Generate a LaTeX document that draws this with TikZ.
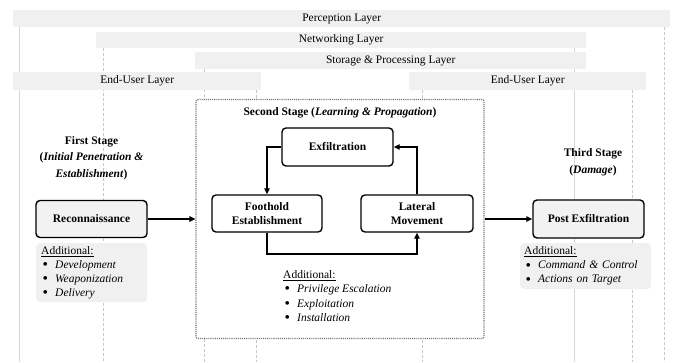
\documentclass[tikz,border=0pt]{standalone}
\usepackage{fontspec}
\setmainfont{Liberation Serif}
\usetikzlibrary{arrows.meta}
\newcommand\addItem[1]{\hspace*{1.5pt}\makebox[12.5pt][l]{\raisebox{-1.3pt}{\scalebox{1.35}{\textbullet}}}\textit{#1}}
\begin{document}
\begin{tikzpicture}[x=1pt,y=-1pt,
  every node/.style={font=\fontsize{11.5}{14}\selectfont},
  layer/.style={fill=black!6, inner sep=0pt, anchor=north west},
  vdash/.style={draw=black!22, line width=0.7pt, densely dashed},
  vsolid/.style={draw=black!16, line width=0.9pt},
  stagebox/.style={draw=black, line width=1.4pt, rounded corners=4pt, fill=black!5, font=\fontsize{11.5}{14}\selectfont\bfseries, align=center, inner sep=0pt},
  addbox/.style={fill=black!6, rounded corners=4pt, anchor=north west, align=left, inner ysep=0pt},
  conn/.style={line width=1.3pt, -{Triangle[length=6pt,width=5.5pt]}},
  title/.style={font=\fontsize{11.5}{16.5}\selectfont\bfseries, align=center}
]
\useasboundingbox (0,0) rectangle (673,362);

% vertical guide lines
\coordinate (v1) at (19,362);
\coordinate (v2) at (103,362);
\coordinate (v3) at (204,362);
\coordinate (v4) at (256,362);
\coordinate (v5) at (422,362);
\coordinate (v6) at (574,362);
\coordinate (v7) at (632,362);
\coordinate (v8) at (664,362);
\coordinate (top1) at (0,27);
\coordinate (top2) at (0,48);
\coordinate (top3) at (0,69);
\coordinate (top4) at (0,90);
\draw[vsolid] (v1 |- top1) -- (v1);
\draw[vdash] (v2 |- top2) -- (v2);
\draw[vdash] (v3 |- top3) -- (v3);
\draw[vdash] (v4 |- top4) -- (v4);
\draw[vdash] (v5 |- top4) -- (v5);
\draw[vsolid] (v6 |- top2) -- (v6);
\draw[vdash] (v7 |- top4) -- (v7);
\draw[vdash] (v8 |- top1) -- (v8);

% layers
\node[layer, minimum width=657pt, minimum height=17pt] (perc) at (13,10) {Perception Layer};
\node[layer, minimum width=490pt, minimum height=16pt] (net) at (96,32) {Networking Layer};
\node[layer, minimum width=391pt, minimum height=17pt] (stor) at (195,52) {Storage \& Processing Layer};
\node[layer, minimum width=248pt, minimum height=18pt] (eul) at (13,72) {End-User Layer};
\node[layer, minimum width=237pt, minimum height=18pt] (eur) at (409,72) {End-User Layer};

% second stage container
\node[draw=black!55, densely dotted, line width=1.1pt, fill=white, rounded corners=2pt,
      minimum width=288pt, minimum height=239pt, inner sep=0pt] (s2) at (340,219) {};
\node[title] (s2t) at (340,113) {Second Stage (\textit{Learning \& Propagation})};

% titles
\node[title] (t1) at (91.5,158) {First Stage\\(\textit{Initial Penetration \&}\\\textit{Establishment})};
\node[title, font=\fontsize{11.5}{17.5}\selectfont\bfseries] (t3) at (593,162) {Third Stage\\(\textit{Damage})};

% stage boxes
\node[stagebox, minimum width=111pt, minimum height=37pt] (recon) at (91.5,219) {Reconnaissance};
\node[stagebox, fill=white, minimum width=110pt, minimum height=37pt] (foot) at (267,213.5) {Foothold\\Establishment};
\node[stagebox, fill=white, minimum width=112pt, minimum height=37pt] (lat) at (417,213.5) {Lateral\\Movement};
\node[stagebox, fill=white, minimum width=111pt, minimum height=38pt] (exf) at (337.5,147) {Exfiltration};
\node[stagebox, minimum width=111pt, minimum height=38pt] (post) at (588.5,219) {Post Exfiltration};

% additional lists
\node[addbox, minimum width=111pt, minimum height=59pt, text width=101pt, inner xsep=5pt] (addL) at (36,243)
  {\underline{Additional:}\\\addItem{Development}\\\addItem{Weaponization}\\\addItem{Delivery}};
\node[addbox, minimum width=131pt, minimum height=46pt, text width=123pt, inner xsep=4pt] (addR) at (520,243)
  {\underline{Additional:}\\\addItem{Command \& Control}\\\addItem{Actions on Target}};
\node[anchor=north west, align=left, inner sep=0pt, font=\fontsize{11.5}{14.5}\selectfont] (addM) at (283,270)
  {\underline{Additional:}\\\addItem{Privilege Escalation}\\\addItem{Exploitation}\\\addItem{Installation}};

% connectors
\draw[conn] (recon.east) -- (s2.west);
\draw[conn] (s2.east) -- (post.west);
\draw[conn] (exf.west) -| (foot.north);
\draw[conn] (lat.north) |- (exf.east);
\coordinate (bot) at (340,254);
\draw[conn] (foot.south) |- (bot) -| (lat.south);
\end{tikzpicture}
\end{document}
